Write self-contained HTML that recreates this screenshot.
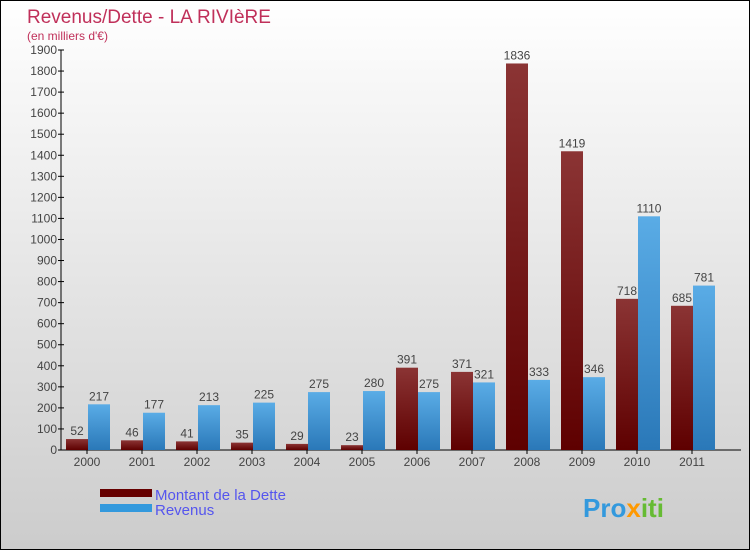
<!DOCTYPE html>
<html><head><meta charset="utf-8"><style>
body{margin:0;width:750px;height:550px;overflow:hidden;font-family:"Liberation Sans",sans-serif}
#wrap{position:relative;width:748px;height:548px;border:1px solid #000;background:linear-gradient(#ffffff,#cccccc)}
</style></head><body>
<div id="wrap">
<svg id="chart" width="748" height="548">
<defs>
<linearGradient id="gD" x1="0" y1="0" x2="0" y2="1"><stop offset="0" stop-color="#8b3434"/><stop offset="1" stop-color="#5e0000"/></linearGradient>
<linearGradient id="gR" x1="0" y1="0" x2="0" y2="1"><stop offset="0" stop-color="#5aace6"/><stop offset="1" stop-color="#2a78b8"/></linearGradient>
</defs>
<text x="26" y="22" font-size="19" fill="#c0305a">Revenus/Dette - LA RIVIèRE</text>
<text x="26" y="39" font-size="12" fill="#c0305a">(en milliers d'€)</text>
<g id="axes"></g><g id="bars"></g>
<rect x="99" y="488" width="52" height="8" fill="#660000"/>
<rect x="99" y="503" width="52" height="8" fill="#3399dd"/>
<text x="154" y="499" font-size="15" fill="#5555ee">Montant de la Dette</text>
<text x="154" y="514" font-size="15" fill="#5555ee">Revenus</text>
<text x="582" y="516" font-size="26" font-weight="bold" fill="#3399dd">Pro<tspan fill="#ff9900">x</tspan><tspan fill="#66bb33">iti</tspan></text>
</svg></div>
<script>
const categories=["2000","2001","2002","2003","2004","2005","2006","2007","2008","2009","2010","2011"];
const dette=[52,46,41,35,29,23,391,371,1836,1419,718,685];
const revenus=[217,177,213,225,275,280,275,321,333,346,1110,781];
const yTicks=[0,100,200,300,400,500,600,700,800,900,1000,1100,1200,1300,1400,1500,1600,1700,1800,1900];
const NS="http://www.w3.org/2000/svg";
const y0=449,yTop=49,yMax=1900;
const y=v=>y0-v*(y0-yTop)/yMax;
const x=i=>86+i*55;
function mk(tag,attrs,parent){const e=document.createElementNS(NS,tag);for(const k in attrs)e.setAttribute(k,attrs[k]);parent.appendChild(e);return e;}
const ax=document.getElementById('axes'),bg=document.getElementById('bars');
let l=mk('line',{x1:60,y1:yTop,x2:60,y2:y0,stroke:'#000'},ax);


l=mk('line',{x1:60,y1:y0,x2:740,y2:y0,stroke:'#000'},ax);


yTicks.forEach(t=>{
 mk('line',{x1:57,y1:y(t),x2:63,y2:y(t),stroke:'#000'},ax);
 const tx=mk('text',{x:56,y:y(t)+4,'font-size':12,fill:'#444','text-anchor':'end'},ax);
 tx.textContent=t;
 
 
});
categories.forEach((c,i)=>{
 const cx=x(i);
 mk('line',{x1:cx,y1:y0,x2:cx,y2:y0+4,stroke:'#000'},ax);
 const tx=mk('text',{x:cx,y:y0+16,'font-size':12,fill:'#444','text-anchor':'middle'},ax);
 tx.textContent=c;
 
 
 [[dette[i],cx-21,'url(#gD)','bar-dette-'],[revenus[i],cx+1,'url(#gR)','bar-revenus-']].forEach(([v,bx,f,n])=>{
  const r=mk('rect',{x:bx,y:y(v),width:22,height:y0-y(v),fill:f},bg);
  
  
  const lt=mk('text',{x:bx+11,y:y(v)-4,'font-size':12,fill:'#444','text-anchor':'middle'},bg);
  lt.textContent=v;
  
  
 });
});
</script>
</body></html>
